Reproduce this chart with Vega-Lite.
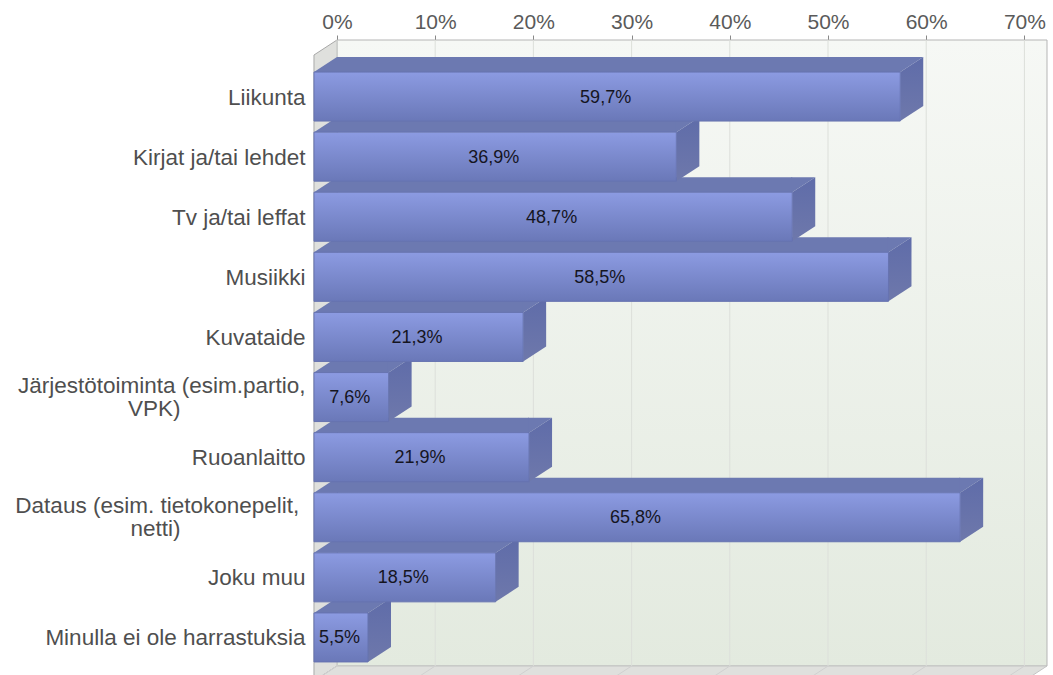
{
"$schema":"https://vega.github.io/schema/vega-lite/v6.json",
"width":733,"height":626,
"autosize":{"type":"none"},
"padding":{"left":314,"top":40,"right":6,"bottom":9},
"background":"#ffffff",
"view":{"stroke":null},
"config":{"font":"Liberation Sans"},
"datasets":{
"bars":[
{"cat":"Liikunta","pct":59.7,"label":"59,7%"},
{"cat":"Kirjat ja/tai lehdet","pct":36.9,"label":"36,9%"},
{"cat":"Tv ja/tai leffat","pct":48.7,"label":"48,7%"},
{"cat":"Musiikki","pct":58.5,"label":"58,5%"},
{"cat":"Kuvataide","pct":21.3,"label":"21,3%"},
{"cat":"Järjestötoiminta (esim.partio, VPK)","pct":7.6,"label":"7,6%"},
{"cat":"Ruoanlaitto","pct":21.9,"label":"21,9%"},
{"cat":"Dataus (esim. tietokonepelit, netti)","pct":65.8,"label":"65,8%"},
{"cat":"Joku muu","pct":18.5,"label":"18,5%"},
{"cat":"Minulla ei ole harrastuksia","pct":5.5,"label":"5,5%"}],
"ticks":[{"t":0},{"t":10},{"t":20},{"t":30},{"t":40},{"t":50},{"t":60},{"t":70}],
"one":[{"k":1}]
},
"resolve":{"scale":{"x":"independent"}},
"layer":[
{"data":{"name":"one"},
 "mark":{"type":"rect","fill":{"gradient":"linear","x1":0,"y1":0,"x2":0,"y2":1,"stops":[{"offset":0,"color":"#f6f8f5"},{"offset":1,"color":"#e3eadf"}]},"stroke":"#b5b5b5","strokeWidth":1},
 "encoding":{"x":{"datum":0,"type":"quantitative","scale":{"domain":[-2.34,72.3],"nice":false,"zero":false},"axis":null},"x2":{"datum":72.3}}},
{"data":{"name":"one"},
 "mark":{"type":"point","filled":true,"size":4,"opacity":1,"fill":"#dfe0dd","stroke":"#a8a8a8","strokeWidth":1,"shape":"M0,-313L-23,-298L-23,328L0,313Z"},
 "encoding":{"x":{"datum":0,"type":"quantitative","scale":{"domain":[-2.34,72.3],"nice":false,"zero":false},"axis":null}}},
{"data":{"name":"one"},
 "mark":{"type":"point","filled":true,"size":4,"opacity":1,"fill":"#dfe0dd","stroke":"#c4c4c4","strokeWidth":1,"shape":"M0,313L710,313L687,328L-23,328Z"},
 "encoding":{"x":{"datum":0,"type":"quantitative","scale":{"domain":[-2.34,72.3],"nice":false,"zero":false},"axis":null}}},
{"data":{"name":"ticks"},
 "mark":{"type":"rule","color":"#dcdfda","strokeWidth":1},
 "encoding":{"x":{"field":"t","type":"quantitative","scale":{"domain":[-2.34,72.3],"nice":false,"zero":false},
  "axis":{"orient":"top","title":null,"values":[0,10,20,30,40,50,60,70],"labelExpr":"datum.value + '%'","domain":false,"grid":false,"tickColor":"#888888","tickSize":5,"labelColor":"#5a5a5a","labelFontSize":21,"labelFont":"Liberation Sans","labelPadding":3}}}},
{"data":{"name":"ticks"},
 "mark":{"type":"point","filled":false,"size":4,"opacity":1,"stroke":"#d0d0d0","strokeWidth":1,"shape":"M0,313L-23,328"},
 "encoding":{"x":{"field":"t","type":"quantitative","scale":{"domain":[-2.34,72.3],"nice":false,"zero":false},"axis":null}}},
{"data":{"name":"bars"},
 "mark":{"type":"bar","height":15,"yOffset":-32,"xOffset":-23,"x2Offset":0,"fill":"#6c79b1"},
 "encoding":{"x":{"field":"pct","type":"quantitative","stack":null,"scale":{"domain":[-2.34,72.3],"nice":false,"zero":false},"axis":null},
  "x2":{"datum":0},
  "y":{"field":"cat","type":"nominal","sort":null,"title":null,
   "scale":{"range":[26.5,627.5],"paddingInner":0,"paddingOuter":0},
   "axis":{"orient":"left","domain":false,"ticks":false,"labelPadding":9,"labelLimit":320,"labelColor":"#4f4f4f","labelFontSize":22.5,"labelFont":"Liberation Sans","labelLineHeight":23,
    "labelOffset":{"condition":{"test":"indexof(datum.value, ',') > 0","value":-11},"value":1},
    "labelExpr":"datum.value == 'Järjestötoiminta (esim.partio, VPK)' ? ['Järjestötoiminta (esim.partio,','VPK)\u00a0\u00a0\u00a0\u00a0\u00a0\u00a0\u00a0\u00a0\u00a0\u00a0\u00a0\u00a0\u00a0\u00a0\u00a0\u00a0\u00a0\u00a0\u00a0\u00a0\u2060'] : datum.value == 'Dataus (esim. tietokonepelit, netti)' ? ['Dataus (esim. tietokonepelit,\u00a0\u2060','netti)\u00a0\u00a0\u00a0\u00a0\u00a0\u00a0\u00a0\u00a0\u00a0\u00a0\u00a0\u00a0\u00a0\u00a0\u00a0\u00a0\u00a0\u00a0\u00a0\u00a0\u2060'] : datum.value"}}}},
{"data":{"name":"bars"},
 "mark":{"type":"point","filled":true,"size":4,"opacity":1,"fill":"#6c79b1","shape":"M-24,-24.5L-23,-24.5L0,-39.5L-24,-39.5Z"},
 "encoding":{"x":{"field":"pct","type":"quantitative","scale":{"domain":[-2.34,72.3],"nice":false,"zero":false},"axis":null},
  "y":{"field":"cat","type":"nominal","sort":null}}},
{"data":{"name":"bars"},
 "mark":{"type":"point","filled":true,"size":4,"opacity":1,"fill":"#6c79b1","shape":"M-23,-24.5L0,-39.5L1,-39.5L1,-24.5Z"},
 "encoding":{"x":{"datum":0,"type":"quantitative","scale":{"domain":[-2.34,72.3],"nice":false,"zero":false},"axis":null},
  "y":{"field":"cat","type":"nominal","sort":null}}},
{"data":{"name":"bars"},
 "mark":{"type":"point","filled":true,"size":4,"opacity":1,"fill":{"gradient":"linear","x1":0,"y1":0,"x2":0,"y2":1,"stops":[{"offset":0,"color":"#5f6ca9"},{"offset":1,"color":"#6e78ab"}]},"shape":"M-23,-24.5L0,-39.5L0,9.5L-23,24.5Z"},
 "encoding":{"x":{"field":"pct","type":"quantitative","scale":{"domain":[-2.34,72.3],"nice":false,"zero":false},"axis":null},
  "y":{"field":"cat","type":"nominal","sort":null}}},
{"data":{"name":"bars"},
 "mark":{"type":"bar","height":49,"xOffset":-23,"x2Offset":-23,"fill":{"gradient":"linear","x1":0,"y1":0,"x2":0,"y2":1,"stops":[{"offset":0,"color":"#8c9be2"},{"offset":1,"color":"#6a78b8"}]},"stroke":"#6673b0","strokeWidth":1},
 "encoding":{"x":{"field":"pct","type":"quantitative","stack":null,"scale":{"domain":[-2.34,72.3],"nice":false,"zero":false},"axis":null},
  "x2":{"datum":0},
  "y":{"field":"cat","type":"nominal","sort":null}}},
{"data":{"name":"bars"},
 "mark":{"type":"text","xOffset":-24.5,"yOffset":1,"color":"#15151f","font":"Liberation Sans","fontSize":18,"align":"center","baseline":"middle"},
 "encoding":{"x":{"field":"pct","type":"quantitative","scale":{"domain":[-4.68,144.6],"nice":false,"zero":false},"axis":null},
  "y":{"field":"cat","type":"nominal","sort":null},
  "text":{"field":"label","type":"nominal"}}}
]}
